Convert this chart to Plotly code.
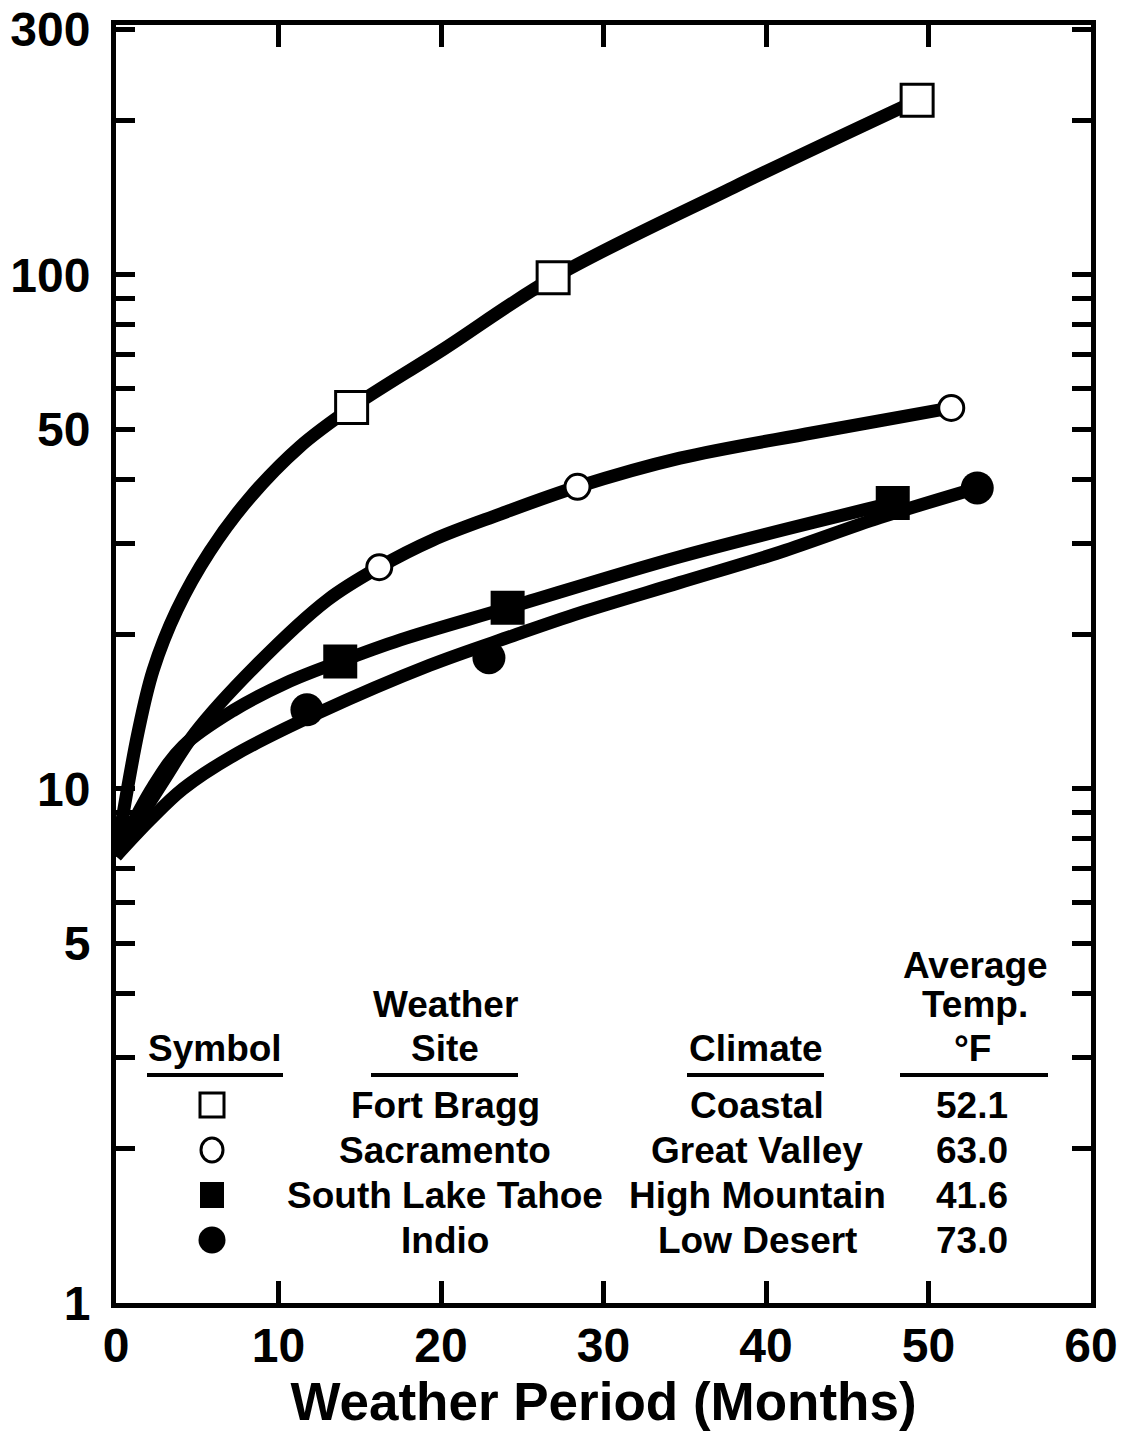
import plotly.graph_objects as go

# ---------------- data ----------------
# measured points (markers)
fb_x = [14.5, 26.9, 49.3]
fb_y = [55.2, 98.7, 218.5]
sac_x = [16.2, 28.4, 51.4]
sac_y = [27.0, 38.7, 55.1]
slt_x = [13.8, 24.1, 47.8]
slt_y = [17.7, 22.5, 36.0]
ind_x = [11.75, 22.95, 53.0]
ind_y = [14.25, 18.0, 38.5]

# fitted curves
fb_cx = [0, 1.35, 2.28, 3.75, 5.78, 8.25, 11.3, 14.5, 20.1, 26.9, 38.0, 49.3]
fb_cy = [7.4, 12.85, 17.0, 22.3, 29.0, 36.9, 46.3, 55.2, 71.5, 98.7, 148.0, 218.5]
sac_cx = [0, 2.95, 4.86, 8.55, 13.0, 16.2, 19.5, 23.6, 28.4, 34.7, 42.9, 51.4]
sac_cy = [7.4, 10.4, 12.85, 17.3, 23.3, 27.0, 30.5, 34.2, 38.7, 44.0, 49.3, 55.1]
slt_cx = [0, 2.28, 4.12, 7.2, 10.5, 13.8, 17.5, 24.1, 34.7, 47.8]
slt_cy = [7.4, 10.1, 12.1, 14.2, 16.1, 17.7, 19.5, 22.5, 28.3, 36.0]
ind_cx = [0, 2.09, 4.12, 7.2, 12.55, 19.3, 24.4, 28.55, 34.7, 40.9, 47.0, 53.0]
ind_cy = [7.4, 8.7, 10.0, 11.6, 14.1, 17.4, 19.85, 22.0, 25.2, 28.9, 33.7, 38.5]

# axis ticks
x_ticks = [0, 10, 20, 30, 40, 50, 60]
x_labels = ["0", "10", "20", "30", "40", "50", "60"]
y_ticks = [1, 2, 3, 4, 5, 6, 7, 8, 9, 10, 20, 30, 40, 50, 60, 70, 80, 90, 100, 200, 300]
y_labels = ["1", "", "", "", "5", "", "", "", "", "10", "", "", "", "50", "", "", "", "", "100", "", "300"]

# legend table
sites = ["Fort Bragg", "Sacramento", "South Lake Tahoe", "Indio"]
climates = ["Coastal", "Great Valley", "High Mountain", "Low Desert"]
temps = ["52.1", "63.0", "41.6", "73.0"]

FONT = "Liberation Sans, Arial, Helvetica, sans-serif"

fig = go.Figure()

LW = 13
for cx, cy in [(fb_cx, fb_cy), (sac_cx, sac_cy), (slt_cx, slt_cy), (ind_cx, ind_cy)]:
    fig.add_trace(go.Scatter(
        x=cx, y=cy, mode="lines",
        line=dict(color="black", width=LW, shape="spline", smoothing=1.0),
        hoverinfo="skip", showlegend=False, cliponaxis=False))

marker_specs = [
    (fb_x, fb_y, "square", 32, "white", 3),
    (sac_x, sac_y, "circle", 25, "white", 3),
    (slt_x, slt_y, "square", 34, "black", 0),
    (ind_x, ind_y, "circle", 33, "black", 0),
]
for mx, my, sym, size, fill, lw in marker_specs:
    fig.add_trace(go.Scatter(
        x=mx, y=my, mode="markers",
        marker=dict(symbol=sym, size=size, color=fill, line=dict(color="black", width=lw)),
        showlegend=False, cliponaxis=False))

# ---------------- layout geometry ----------------
# page body has an 8px default margin, so the figure is drawn 8px smaller
# and all positions below are page pixels minus that offset
OFF = 8
W, H = 1127 - OFF, 1433 - OFF
L, R, T, B = 116 - OFF, 1091 - OFF, 25 - OFF, 1303 - OFF


def px(p):
    return (p - OFF - L) / (R - L)


def py(p):
    return (B - (p - OFF)) / (B - T)


ann = []
shapes = []
TS = 37


def txt(s, x, y):
    ann.append(dict(text=s, x=px(x), y=py(y), xref="paper", yref="paper",
                    xanchor="center", yanchor="middle", showarrow=False,
                    font=dict(family=FONT, size=TS, color="black", weight="bold")))


# headers
txt("Symbol", 215, 1048)
txt("Weather", 445, 1004)
txt("Site", 445, 1048)
txt("Climate", 756, 1048)
txt("Average", 975, 965)
txt("Temp.", 975, 1004)
txt("°F", 972, 1048)

for x0, x1 in [(147, 283), (371, 518), (687, 824), (900, 1048)]:
    shapes.append(dict(type="line", xref="paper", yref="paper",
                       x0=px(x0), x1=px(x1), y0=py(1075), y1=py(1075),
                       line=dict(color="black", width=4)))

row_y = [1105, 1150, 1195, 1240]
for i in range(4):
    txt(sites[i], 445, row_y[i])
    txt(climates[i], 757, row_y[i])
    txt(temps[i], 972, row_y[i])

# legend symbols
sx = 212
h = 12
shapes.append(dict(type="rect", xref="paper", yref="paper",
                   x0=px(sx - h), x1=px(sx + h), y0=py(row_y[0] - h), y1=py(row_y[0] + h),
                   line=dict(color="black", width=3), fillcolor="white"))
shapes.append(dict(type="circle", xref="paper", yref="paper",
                   x0=px(sx - 11), x1=px(sx + 11), y0=py(row_y[1] - 12), y1=py(row_y[1] + 12),
                   line=dict(color="black", width=3), fillcolor="white"))
shapes.append(dict(type="rect", xref="paper", yref="paper",
                   x0=px(sx - 12), x1=px(sx + 12), y0=py(row_y[2] - 13), y1=py(row_y[2] + 13),
                   line=dict(color="black", width=0), fillcolor="black"))
shapes.append(dict(type="circle", xref="paper", yref="paper",
                   x0=px(sx - 13.5), x1=px(sx + 13.5), y0=py(row_y[3] - 13.5), y1=py(row_y[3] + 13.5),
                   line=dict(color="black", width=0), fillcolor="black"))

fig.update_layout(
    width=W, height=H,
    margin=dict(l=L, r=W - R, t=T, b=H - B),
    plot_bgcolor="white", paper_bgcolor="white",
    showlegend=False,
    font=dict(family=FONT, color="black"),
    annotations=ann, shapes=shapes,
)

fig.update_xaxes(
    range=[0, 60], tickmode="array", tickvals=x_ticks, ticktext=x_labels,
    ticks="inside", ticklen=22, tickwidth=5, tickcolor="black",
    showline=True, linewidth=5, linecolor="black", mirror="ticks",
    showgrid=False, zeroline=False, automargin=False,
    tickfont=dict(family=FONT, size=48, color="black", weight="bold"),
    ticklabelstandoff=-4, ticklabeloverflow="allow",
    title=dict(text="Weather Period (Months)", standoff=14,
               font=dict(family=FONT, size=53, color="black", weight="bold")),
)
fig.update_yaxes(
    type="log", range=[0, 2.486], tickmode="array", tickvals=y_ticks, ticktext=y_labels,
    ticks="inside", ticklen=19, tickwidth=5, tickcolor="black",
    showline=True, linewidth=5, linecolor="black", mirror="ticks",
    showgrid=False, zeroline=False, automargin=False,
    tickfont=dict(family=FONT, size=48, color="black", weight="bold"),
    ticklabelstandoff=11, ticklabeloverflow="allow",
)

fig.write_html("out.html")
